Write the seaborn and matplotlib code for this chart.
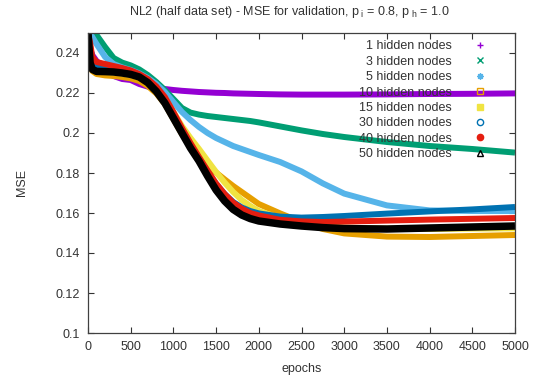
import matplotlib
matplotlib.use("Agg")
import matplotlib.pyplot as plt
from matplotlib.lines import Line2D
import seaborn as sns
import pandas as pd

# Validation MSE sampled along training (epochs)
epochs = [0, 25, 50, 100, 200, 300, 400, 500, 600, 700, 800, 900, 1000, 1100,
          1200, 1300, 1400, 1500, 1600, 1700, 1800, 1900, 2000, 2250, 2500,
          2750, 3000, 3500, 4000, 4500, 5000]

mse_1 = [0.245, 0.242, 0.239, 0.236, 0.232, 0.2285, 0.227, 0.2265, 0.2245,
         0.2232, 0.2225, 0.222, 0.2215, 0.2211, 0.2208, 0.2205, 0.2203, 0.2201,
         0.22, 0.2198, 0.2197, 0.2196, 0.2195, 0.2193, 0.2192, 0.2192, 0.2192,
         0.2193, 0.2195, 0.2196, 0.2198]
mse_3 = [0.25, 0.25, 0.25, 0.249, 0.243, 0.2375, 0.2352, 0.2338, 0.2318,
         0.229, 0.2255, 0.2215, 0.217, 0.2125, 0.2102, 0.2092, 0.2085, 0.208,
         0.2075, 0.207, 0.2065, 0.206, 0.2053, 0.2033, 0.2013, 0.1995, 0.198,
         0.1955, 0.1935, 0.192, 0.1902]
mse_5 = [0.25, 0.25, 0.248, 0.2445, 0.238, 0.2345, 0.2328, 0.2315, 0.2298,
         0.2275, 0.2245, 0.2205, 0.2155, 0.2105, 0.2065, 0.203, 0.2, 0.1975,
         0.1955, 0.1935, 0.192, 0.1905, 0.189, 0.1855, 0.1808, 0.1748, 0.1697,
         0.1638, 0.1613, 0.161, 0.161]
mse_10 = [0.25, 0.238, 0.231, 0.2295, 0.2288, 0.2285, 0.228, 0.2273, 0.226,
          0.2235, 0.2198, 0.2145, 0.207, 0.1995, 0.1932, 0.1875, 0.1835,
          0.1802, 0.1768, 0.1735, 0.1705, 0.1675, 0.1645, 0.1598, 0.1555,
          0.152, 0.1498, 0.1482, 0.148, 0.1485, 0.149]
mse_15 = [0.25, 0.24, 0.233, 0.231, 0.2305, 0.2302, 0.2297, 0.229, 0.2278,
          0.2255, 0.2223, 0.2175, 0.2105, 0.2035, 0.1975, 0.192, 0.1862,
          0.1805, 0.1752, 0.1705, 0.1665, 0.1635, 0.161, 0.1575, 0.155,
          0.1535, 0.1527, 0.1522, 0.152, 0.1522, 0.1523]
mse_30 = [0.25, 0.243, 0.237, 0.234, 0.2325, 0.2318, 0.231, 0.2302, 0.2288,
          0.2262, 0.2225, 0.2172, 0.2095, 0.2018, 0.1943, 0.1873, 0.1805,
          0.1745, 0.1695, 0.1655, 0.1628, 0.161, 0.1598, 0.1582, 0.1577,
          0.158, 0.1585, 0.1597, 0.1608, 0.1618, 0.163]
mse_40 = [0.25, 0.245, 0.238, 0.2355, 0.2345, 0.2335, 0.2325, 0.2313, 0.2295,
          0.227, 0.2233, 0.218, 0.2105, 0.2025, 0.195, 0.188, 0.1812, 0.1748,
          0.1695, 0.1652, 0.1622, 0.1600, 0.1588, 0.1566, 0.1558, 0.1555,
          0.1557, 0.1562, 0.1567, 0.1571, 0.1575]
mse_50 = [0.25, 0.235, 0.2318, 0.2308, 0.2307, 0.2305, 0.23, 0.2293, 0.228,
          0.2252, 0.2208, 0.215, 0.2075, 0.2, 0.1925, 0.186, 0.1785, 0.1715,
          0.166, 0.1618, 0.159, 0.1572, 0.156, 0.1545, 0.1535, 0.1527,
          0.1522, 0.152, 0.1525, 0.153, 0.1535]

labels = ["1 hidden nodes", "3 hidden nodes", "5 hidden nodes",
          "10 hidden nodes", "15 hidden nodes", "30 hidden nodes",
          "40 hidden nodes", "50 hidden nodes"]
series = [mse_1, mse_3, mse_5, mse_10, mse_15, mse_30, mse_40, mse_50]
colors = ["#9400D3", "#009E73", "#56B4E9", "#E69F00", "#F0E442",
          "#0072B2", "#E51E10", "#000000"]
markers = [dict(marker="+"), dict(marker="x"), dict(marker=(8, 2, 0)),
           dict(marker="s", fillstyle="none"), dict(marker="s"),
           dict(marker="o", fillstyle="none"), dict(marker="o"),
           dict(marker="^", fillstyle="none")]

sns.set_style("ticks")
plt.rcParams["font.family"] = ["Liberation Sans", "DejaVu Sans"]
plt.rcParams["mathtext.fontset"] = "custom"
plt.rcParams["mathtext.rm"] = "Liberation Sans"
plt.rcParams["mathtext.it"] = "Liberation Sans"
plt.rcParams["mathtext.default"] = "regular"

fig = plt.figure(figsize=(5.39, 3.85), dpi=100)
ax = fig.add_axes([88 / 539, 1 - 333 / 385, 427 / 539, 300 / 385])

frames = []
for lab, vals in zip(labels, series):
    frames.append(pd.DataFrame({"epochs": epochs, "MSE": vals, "series": lab}))
df = pd.concat(frames, ignore_index=True)

for lab, col in zip(labels, colors):
    sub = df[df["series"] == lab]
    lw = 5.4 if col == "#000000" else 4.3
    sns.lineplot(data=sub, x="epochs", y="MSE", color=col, lw=lw, ax=ax,
                 legend=False, solid_capstyle="butt", solid_joinstyle="round",
                 sort=False)

ax.set_xlim(0, 5000)
ax.set_ylim(0.1, 0.25)
ax.set_xticks(range(0, 5001, 500))
yt = [0.1, 0.12, 0.14, 0.16, 0.18, 0.2, 0.22, 0.24]
ax.set_yticks(yt)
ax.set_yticklabels(["0.1", "0.12", "0.14", "0.16", "0.18", "0.2", "0.22", "0.24"])
ax.tick_params(direction="in", length=4, width=0.8, top=True, right=True,
               labelsize=9, colors="#333333", pad=6)
for sp in ax.spines.values():
    sp.set_color("#404040")
    sp.set_linewidth(0.9)
ax.set_xlabel("epochs", fontsize=9, color="#333333", labelpad=7)
ax.set_ylabel("MSE", fontsize=9, color="#333333", labelpad=20)

fig.text(289 / 539, 1 - 12 / 385,
         "NL2 (half data set) - MSE for validation, p$_{\\ i}$ = 0.8, p$_{\\ h}$ = 1.0",
         ha="center", va="center", fontsize=9, color="#333333")

handles = [Line2D([], [], linestyle="none", color=c, markersize=4.5,
                  markeredgewidth=1.0, **m) for c, m in zip(colors, markers)]
leg = ax.legend(handles, labels, loc="upper right",
                bbox_to_anchor=(0.948, 0.975), frameon=False, markerfirst=False,
                fontsize=9, handlelength=2.0, handletextpad=1.3,
                labelspacing=0.27, borderpad=0, borderaxespad=0)
for t in leg.get_texts():
    t.set_color("#333333")
leg.set_zorder(10)

fig.savefig("out.png", dpi=100)
